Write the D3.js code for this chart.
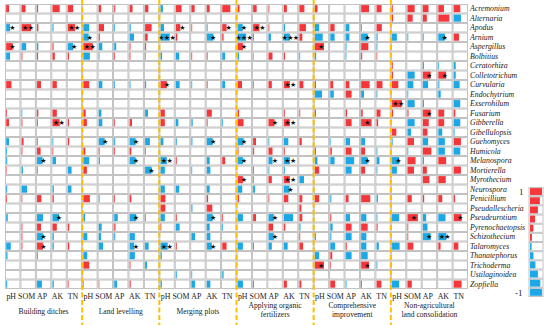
<!DOCTYPE html>
<html lang="en">
	<head>
		<meta charset="utf-8">
		<title>Fungi vs soil properties</title>
		<style>
		body { margin: 0; background: #fff; }
		.cell { fill: #fff; stroke: #c2c2c2; stroke-width: 1; }
		.lab { font-family: "Liberation Serif", serif; fill: #222; }
		.gen { font-family: "Liberation Serif", serif; font-style: italic; font-size: 7.8px; fill: #222; }
		.star { font-family: "DejaVu Sans", sans-serif; font-size: 7px; fill: #111; }
		</style>
	</head>
	<body>
		<svg id="chart" width="550" height="325"></svg>
		<script src="https://d3js.org/d3.v7.min.js"></script>
		<script>

		var genera = ["Acremonium","Alternaria","Apodus","Arnium","Aspergillus","Bolbitius","Ceratorhiza","Colletotrichum","Curvularia","Endochytrium",
			"Exserohilum","Fusarium","Gibberella","Gibellulopsis","Guehomyces","Humicola","Melanospora","Mortierella","Myrothecium","Neurospora",
			"Penicillium","Pseudallescheria","Pseudeurotium","Pyrenochaetopsis","Schizothecium","Talaromyces","Thanatephorus","Trichoderma","Ustilaginoidea","Zopfiella"];

		var soilVars = ["pH","SOM","AP","AK","TN"];

		var groups = [["Building ditches"],["Land levelling"],["Merging plots"],["Applying organic","fertilizers"],["Comprehensive","improvement"],["Non-agricultural","land consolidation"]];

		// correlation per genus, 6 groups x (pH, SOM, AP, AK, TN)
		var corr = [
			[.22,.3,.08,.55,.4,   0,.18,.08,.22,.25,   -.18,.43,.25,.22,.62,   .14,.27,.06,.22,.38,   .2,0,0,.6,.38,   .06,.55,.43,.43,.5],
			[0,0,0,0,0,   0,0,0,0,0,   0,0,0,0,0,   0,0,0,0,0,   0,0,0,0,0,   .08,.4,.3,.85,-.55],
			[-.3,.72,.1,-.08,.55,   -.45,.4,-.06,-.08,.5,   -.27,.33,.06,-.06,.33,   -.38,.48,.06,-.08,.5,   -.33,.33,-.28,-.06,.4,   0,0,0,0,0],
			[0,0,0,0,0,   -.4,.08,0,-.33,.2,   -.7,.1,0,-.5,.1,   -.65,.06,-.18,-.45,.22,   -.6,-.33,-.28,-.5,-.08,   -.37,-.06,-.06,-.5,.4],
			[.5,-.35,-.1,.08,-.4,   .72,-.27,-.15,.06,.08,   0,0,0,0,0,   .4,0,0,0,0,   .7,0,-.06,.55,-.06,   0,0,0,0,0],
			[-.3,.06,.08,.18,.08,   -.5,-.05,.06,.06,-.05,   -.12,-.25,.06,.06,-.22,   -.1,-.04,.3,.08,-.06,   -.1,0,-.05,.08,.05,   0,0,0,0,0],
			[0,0,0,0,0,   0,0,0,0,0,   0,0,0,0,0,   0,0,0,0,0,   0,0,0,0,0,   .06,0,-.08,-.06,-.15],
			[0,0,0,0,0,   0,0,0,0,0,   0,0,0,0,0,   0,0,0,0,0,   0,0,0,0,0,   .08,-.55,.6,.6,-.15],
			[.4,0,.3,.33,0,   .45,-.27,-.06,-.06,-.08,   .48,-.28,-.06,.06,-.22,   .33,-.06,.25,.45,.3,   .08,.22,.28,.65,.45,   .48,-.45,-.4,-.08,-.45],
			[0,0,0,0,0,   0,0,0,0,0,   0,0,0,0,0,   0,0,0,0,0,   -.55,-.27,.45,-.22,-.06,   0,-.06,0,-.18,0],
			[0,0,0,0,0,   0,0,0,0,0,   0,0,0,0,0,   0,0,0,0,0,   0,0,0,0,0,   .75,-.55,-.08,0,-.5],
			[.06,-.05,.1,.33,0,   .18,-.2,0,0,-.22,   .33,0,0,.38,0,   .1,0,0,.06,.06,   .08,0,.1,.12,.3,   .08,.08,.6,.45,.12],
			[.22,.06,.06,.55,.08,   .27,-.27,.06,.18,0,   .33,-.18,-.1,.06,-.06,   .45,0,.45,.45,0,   0,0,.45,.8,.12,   0,-.55,.45,.45,-.5],
			[0,0,0,0,0,   0,0,0,0,0,   0,0,0,0,0,   0,0,0,0,0,   0,0,0,0,0,   .33,-.27,.35,-.3,-.06],
			[-.22,.15,-.06,-.06,.1,   0,-.45,-.08,-.45,-.37,   -.22,-.06,-.08,-.45,0,   -.45,.22,-.06,-.33,.18,   0,-.04,-.33,-.3,0,   -.05,.5,-.4,-.5,.55],
			[-.06,.06,.27,.06,0,   .15,.06,.06,.13,-.06,   0,0,0,0,0,   .06,.08,.3,.06,0,   .08,.12,.45,.3,-.06,   0,-.06,.65,-.5,-.5],
			[-.08,0,-.42,-.27,0,   -.45,-.08,0,-.45,0,   -.48,.06,0,-.22,.22,   -.4,0,-.3,-.45,0,   -.2,-.33,-.65,-.5,-.22,   -.55,.62,-.08,.6,0],
			[.04,-.1,-.06,0,-.28,   .27,0,0,0,-.5,   -.33,0,-.06,-.27,0,   0,.06,-.06,-.06,0,   .33,0,-.45,.3,-.06,   -.37,.5,.3,0,.55],
			[0,0,0,0,0,   0,0,0,0,0,   0,0,0,0,0,   .4,-.06,.25,.45,-.35,   0,0,0,0,0,   0,0,.5,.57,0],
			[-.08,-.42,0,-.1,-.27,   0,0,0,0,0,   -.33,-.25,0,-.22,0,   -.35,-.15,0,-.42,0,   0,0,0,0,0,   0,0,0,0,0],
			[.06,.05,.33,.1,0,   .5,-.06,.06,.13,0,   .37,0,0,.1,0,   .1,0,.06,.33,.22,   .33,-.08,.22,.7,-.1,   0,.33,.1,.3,.1],
			[0,0,0,0,0,   0,0,0,0,0,   .37,0,-.08,.42,0,   0,0,0,0,.15,   0,0,0,0,0,   0,0,0,0,0],
			[-.12,0,-.45,-.5,0,   -.13,0,-.27,-.5,-.06,   -.33,.06,0,-.45,.06,   -.4,.22,-.4,-.7,.22,   0,.08,-.33,-.4,-.06,   -.55,.8,-.25,-.55,.6],
			[0,.06,.3,.33,.1,   0,-.22,.1,0,0,   .06,-.28,0,-.22,-.06,   0,0,.35,.1,-.08,   0,-.18,.45,.5,.08,   0,.06,-.35,0,0],
			[0,.06,-.45,-.1,0,   -.3,-.18,-.08,-.4,0,   0,0,-.28,-.27,0,   0,0,-.4,0,.06,   -.08,-.08,-.45,-.4,0,   0,.06,-.6,-.62,0],
			[-.35,.06,.45,-.1,.1,   0,-.33,0,-.35,-.27,   -.55,.06,0,-.38,.33,   -.4,.06,-.25,-.28,.28,   0,-.37,.08,-.4,-.17,   -.58,.45,0,.17,.35],
			[-.1,0,-.06,0,0,   -.3,0,0,-.4,0,   -.1,0,0,0,0,   0,0,0,0,0,   -.33,.15,-.45,-.5,0,   0,0,0,0,0],
			[0,0,0,0,0,   .45,0,0,.06,-.15,   0,0,0,0,0,   0,0,0,0,0,   .7,.05,0,.6,-.06,   0,0,0,0,0],
			[0,0,0,0,0,   0,0,0,0,0,   0,-.06,-.06,0,-.1,   0,0,0,0,0,   0,0,0,0,0,   0,0,0,0,0],
			[-.08,0,-.37,-.1,.05,   .04,.04,-.22,.08,0,   -.1,0,-.28,-.27,0,   -.4,.06,0,.22,.15,   0,.37,-.06,.06,.37,   -.55,.33,0,0,.6]
		];

		// significance marks: [row, column, number of stars]
		var stars = [
			[2,0,1],[2,1,2],[2,4,2],[2,11,1],[2,14,1],[2,15,1],[2,16,2],
			[3,5,1],[3,10,3],[3,13,1],[3,15,3],[3,18,3],[3,23,1],[3,28,1],
			[4,0,1],[4,4,1],[4,5,2],[4,15,1],[4,20,1],
			[7,27,1],[7,28,1],[8,10,1],[8,18,2],[10,25,2],[11,27,1],
			[12,3,2],[12,17,1],[12,18,2],[12,23,1],
			[14,6,1],[14,8,1],[14,13,1],[14,15,1],
			[16,2,1],[16,8,1],[16,10,2],[16,15,1],[16,17,1],[16,18,2],[16,23,1],[16,25,1],
			[17,9,1],[18,15,1],[18,18,2],[19,18,1],
			[22,3,1],[22,8,1],[22,13,1],[22,17,1],[22,26,1],[22,29,1],
			[24,2,1],[24,17,1],[24,27,1],[24,28,2],
			[25,2,1],[25,8,1],[25,10,2],[25,13,1],
			[27,20,1],[27,23,1]
		];

		var legendVals = [1,.82,.66,.42,.28,.16,-.13,-.29,-.45,-.66,-.86,-1];

		var red = "#f5373b", blue = "#1ca7e6";

		var svg = d3.select("#chart");

		var x = d3.scaleBand().domain(d3.range(30)).range([5, 468]);
		var y = d3.scaleBand().domain(genera).range([4, 289]);
		var barW = d3.scaleLinear().domain([0, 1]).range([0, x.bandwidth() - 2.4]);

		var cells = [];
		corr.forEach(function(row, i) {
			row.forEach(function(v, j) { cells.push({g: genera[i], c: j, v: v}); });
		});

		svg.append("g").selectAll("rect")
			.data(cells)
			.enter().append("rect")
			.attr("class", "cell")
			.attr("x", function(d) { return x(d.c) + 0.5; })
			.attr("y", function(d) { return y(d.g) + 0.5; })
			.attr("width", x.bandwidth() - 1)
			.attr("height", y.bandwidth() - 1);

		svg.append("g").selectAll("rect")
			.data(cells.filter(function(d) { return d.v !== 0; }))
			.enter().append("rect")
			.attr("x", function(d) { return x(d.c) + 1.2; })
			.attr("y", function(d) { return y(d.g) + 1.1; })
			.attr("width", function(d) { return barW(Math.abs(d.v)); })
			.attr("height", y.bandwidth() - 2.4)
			.attr("fill", function(d) { return d.v > 0 ? red : blue; });

		svg.append("g").selectAll("text")
			.data(stars)
			.enter().append("text")
			.attr("class", "star")
			.attr("x", function(d) { return x(d[1]) + x.bandwidth() / 2 - 0.5; })
			.attr("y", function(d) { return y(genera[d[0]]) + y.bandwidth() / 2 + 2.6; })
			.attr("text-anchor", "middle")
			.attr("letter-spacing", "-0.6px")
			.text(function(d) { return "\u2605".repeat(d[2]); });

		// dashed separators between the treatments
		svg.append("g").selectAll("line")
			.data([1, 2, 3, 4, 5])
			.enter().append("line")
			.attr("x1", function(k) { return x(k * 5); })
			.attr("x2", function(k) { return x(k * 5); })
			.attr("y1", 0).attr("y2", 325)
			.attr("stroke", "#ffbf00")
			.attr("stroke-width", 2)
			.attr("stroke-dasharray", "5,2.5");

		// genus names
		svg.append("g").selectAll("text")
			.data(genera)
			.enter().append("text")
			.attr("class", "gen")
			.attr("x", 470)
			.attr("y", function(d) { return y(d) + y.bandwidth() / 2 + 2.7; })
			.text(function(d) { return d; });

		// variable labels under each column
		svg.append("g").selectAll("text")
			.data(d3.range(30))
			.enter().append("text")
			.attr("class", "lab")
			.attr("font-size", "7.9px")
			.attr("text-anchor", "middle")
			.attr("x", function(c) { return x(c) + x.bandwidth() / 2 - 1.5; })
			.attr("y", 299)
			.text(function(c) { return soilVars[c % 5]; });

		// treatment names
		var gl = svg.append("g").selectAll("text")
			.data(groups)
			.enter().append("text")
			.attr("class", "lab")
			.attr("font-size", "7.6px")
			.attr("text-anchor", "middle")
			.attr("x", function(d, i) { return x(i * 5) + x.bandwidth() * 2.5; })
			.attr("y", function(d) { return d.length > 1 ? 307.5 : 314; });
		gl.selectAll("tspan")
			.data(function(d) { return d; })
			.enter().append("tspan")
			.attr("x", function() { return d3.select(this.parentNode).attr("x"); })
			.attr("dy", function(d, i) { return i ? 9.5 : 0; })
			.text(function(d) { return d; });

		// legend
		var ly = d3.scaleBand().domain(d3.range(legendVals.length)).range([187, 297]);
		var lw = d3.scaleLinear().domain([0, 1]).range([0, 12]);
		var leg = svg.append("g");
		leg.selectAll("rect.cell")
			.data(legendVals)
			.enter().append("rect")
			.attr("class", "cell")
			.attr("x", 529)
			.attr("y", function(d, i) { return ly(i) + 0.5; })
			.attr("width", 14)
			.attr("height", ly.bandwidth() - 1);
		leg.selectAll("rect.bar")
			.data(legendVals)
			.enter().append("rect")
			.attr("class", "bar")
			.attr("x", 530)
			.attr("y", function(d, i) { return ly(i) + 1.1; })
			.attr("width", function(d) { return lw(Math.abs(d)); })
			.attr("height", ly.bandwidth() - 2.3)
			.attr("fill", function(d) { return d > 0 ? red : blue; });
		leg.append("text").attr("class", "lab").attr("font-size", "9px")
			.attr("x", 519).attr("y", 194.5).text("1");
		leg.append("text").attr("class", "lab").attr("font-size", "9px")
			.attr("x", 515).attr("y", 296).text("-1");

		</script>
	</body>
</html>
